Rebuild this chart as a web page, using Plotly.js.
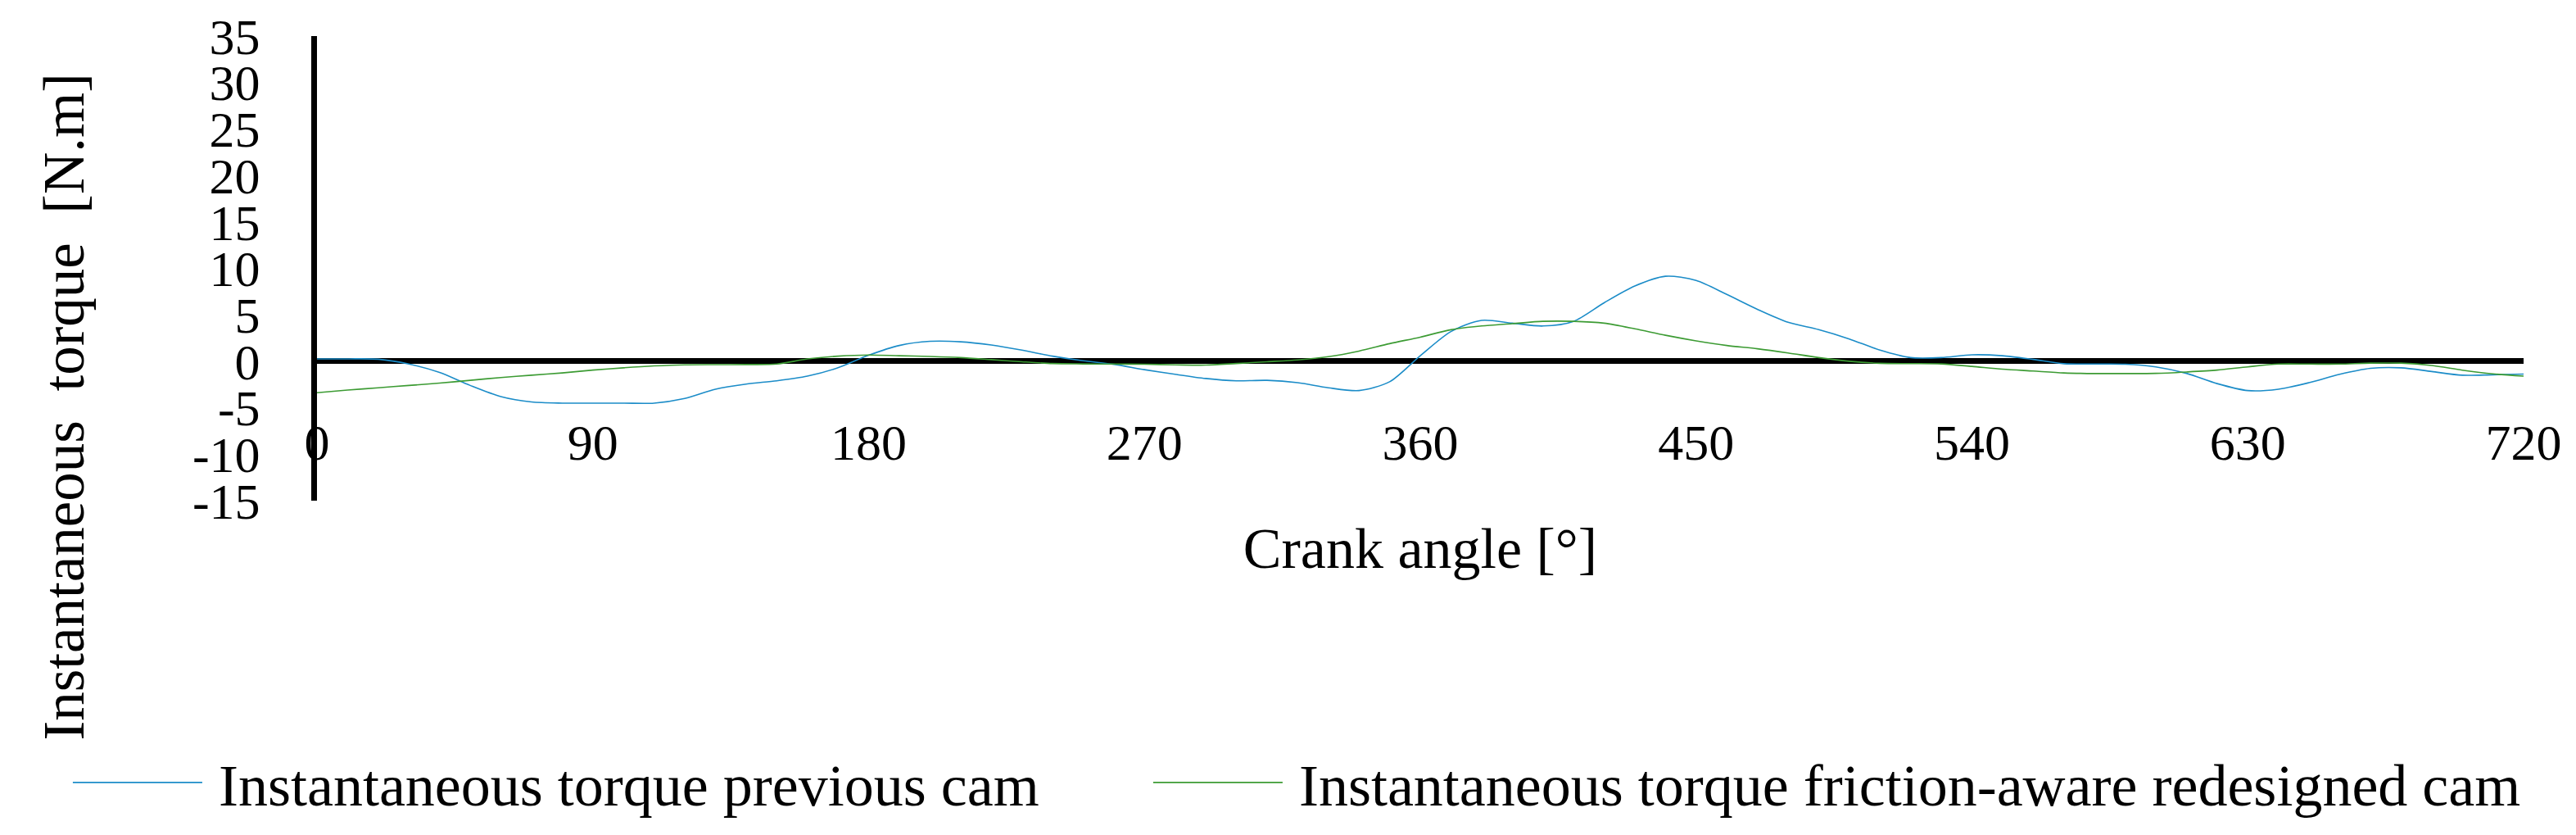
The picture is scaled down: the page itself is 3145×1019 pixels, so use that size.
<!DOCTYPE html>
<html>
<head>
<meta charset="utf-8">
<script src="https://cdn.plot.ly/plotly-3.0.1.min.js"></script>
<style>
  html, body { margin: 0; padding: 0; background: #fff; }
  #torquePlot { width: 3145px; height: 1019px; }
</style>
</head>
<body>
<div id="torquePlot"></div>
<script>
// Crank angle in degrees, every 10 deg over the full 4-stroke cycle
const crankAngle = [
  0, 10, 20, 30, 40, 50, 60, 70, 80, 90,
  100, 110, 120, 130, 140, 150, 160, 170, 180, 190,
  200, 210, 220, 230, 240, 250, 260, 270, 280, 290,
  300, 310, 320, 330, 340, 350, 360, 370, 380, 390,
  400, 410, 420, 430, 440, 450, 460, 470, 480, 490,
  500, 510, 520, 530, 540, 550, 560, 570, 580, 590,
  600, 610, 620, 630, 640, 650, 660, 670, 680, 690,
  700, 710, 720
];

// Instantaneous torque [N.m]
const torquePrevious = [
  0.26, 0.26, 0.22, -0.3, -1.2, -2.6, -3.8, -4.38, -4.5, -4.5,
  -4.5, -4.5, -4.0, -3.0, -2.45, -2.1, -1.6, -0.7, 0.65, 1.7,
  2.15, 2.1, 1.75, 1.2, 0.55, 0.05, -0.33, -0.9, -1.4, -1.85,
  -2.1, -2.05, -2.3, -2.85, -3.15, -2.2, 0.6, 3.2, 4.4, 4.1,
  3.8, 4.3, 6.3, 8.1, 9.15, 8.7, 7.2, 5.6, 4.2, 3.4,
  2.4, 1.2, 0.4, 0.4, 0.7, 0.6, 0.2, -0.26, -0.3, -0.32,
  -0.6, -1.3, -2.4, -3.15, -3.0, -2.3, -1.4, -0.76, -0.7, -1.1,
  -1.5, -1.45, -1.38
];

const torqueRedesigned = [
  -3.38, -3.1, -2.85, -2.6, -2.35, -2.05, -1.75, -1.5, -1.25, -0.95,
  -0.7, -0.5, -0.38, -0.36, -0.35, -0.3, 0.25, 0.55, 0.68, 0.6,
  0.52, 0.4, 0.18, -0.05, -0.24, -0.28, -0.3, -0.32, -0.38, -0.41,
  -0.24, -0.05, 0.15, 0.5, 1.1, 1.9, 2.6, 3.4, 3.8, 4.05,
  4.3, 4.3, 4.1, 3.5, 2.8, 2.2, 1.7, 1.35, 0.9, 0.4,
  0.0, -0.22, -0.25, -0.28, -0.55, -0.85, -1.05, -1.25, -1.32, -1.32,
  -1.3, -1.15, -0.95, -0.6, -0.3, -0.3, -0.3, -0.2, -0.2, -0.45,
  -0.95, -1.35, -1.59
];

// Tick labels (the original uses a plain hyphen for negatives)
const xTickVals = [0, 90, 180, 270, 360, 450, 540, 630, 720];
const yTickVals = [-15, -10, -5, 0, 5, 10, 15, 20, 25, 30, 35];
const yTickText = ['-15', '-10', '-5', '0', '5', '10', '15', '20', '25', '30', '35'];

const serif = 'Liberation Serif, Times New Roman, serif';

let previous = {
  x: crankAngle,
  y: torquePrevious,
  type: 'scatter',
  mode: 'lines',
  name: 'Instantaneous torque previous cam',
  legend: 'legend',
  line: {color: '#1b8cc8', width: 1.6, shape: 'spline', smoothing: 0.8}
};

let redesigned = {
  x: crankAngle,
  y: torqueRedesigned,
  type: 'scatter',
  mode: 'lines',
  name: 'Instantaneous torque friction-aware redesigned cam',
  legend: 'legend2',
  line: {color: '#3c9b33', width: 1.6, shape: 'spline', smoothing: 0.8}
};

let data = [previous, redesigned];

// both legend entries sit on one row under the chart, each in its own box
function legendBox(xPos) {
  return {
    orientation: 'h',
    x: xPos,
    xanchor: 'left',
    y: -0.604,
    yanchor: 'middle',
    itemwidth: 173,
    font: {size: 72},
    bgcolor: 'rgba(0,0,0,0)'
  };
}

let layout = {
  width: 3145,
  height: 1019,
  margin: {l: 387, r: 64, t: 44, b: 407},
  paper_bgcolor: '#fff',
  plot_bgcolor: '#fff',
  font: {family: serif, color: '#000', size: 62},
  showlegend: true,
  xaxis: {
    range: [0, 720],
    anchor: 'free',
    position: 0.301,   // labels hang off the zero line, like the original
    tickvals: xTickVals,
    ticks: '',
    ticklabelstandoff: 58,
    showgrid: false,
    zeroline: false,
    showline: false,
    tickfont: {size: 62},
    title: {text: 'Crank angle [°]', font: {size: 70}, standoff: 70}
  },
  yaxis: {
    range: [-15, 35],
    tickvals: yTickVals,
    ticktext: yTickText,
    ticks: '',
    ticklabelstandoff: 50,
    showgrid: false,
    showline: true,
    linecolor: '#000',
    linewidth: 7,
    zeroline: true,
    zerolinecolor: '#000',
    zerolinewidth: 7,
    tickfont: {size: 62}
  },
  annotations: [{
    text: 'Instantaneous\u00a0\u00a0torque\u00a0\u00a0[N.m]',
    textangle: -90,
    xref: 'paper', yref: 'paper',
    x: -0.1146, y: 0.2025,
    xanchor: 'center', yanchor: 'middle',
    showarrow: false,
    font: {size: 71}
  }],
  legend: legendBox(-0.1125),
  legend2: legendBox(0.3771)
};

Plotly.newPlot('torquePlot', data, layout, {displayModeBar: false}).then(function () {
  // the legend line samples in the original are long, stretch plotly's 30px stub
  document.querySelectorAll('.legendlines path').forEach(function (p) {
    p.setAttribute('d', 'M5,0h158');
  });
});
</script>
</body>
</html>
